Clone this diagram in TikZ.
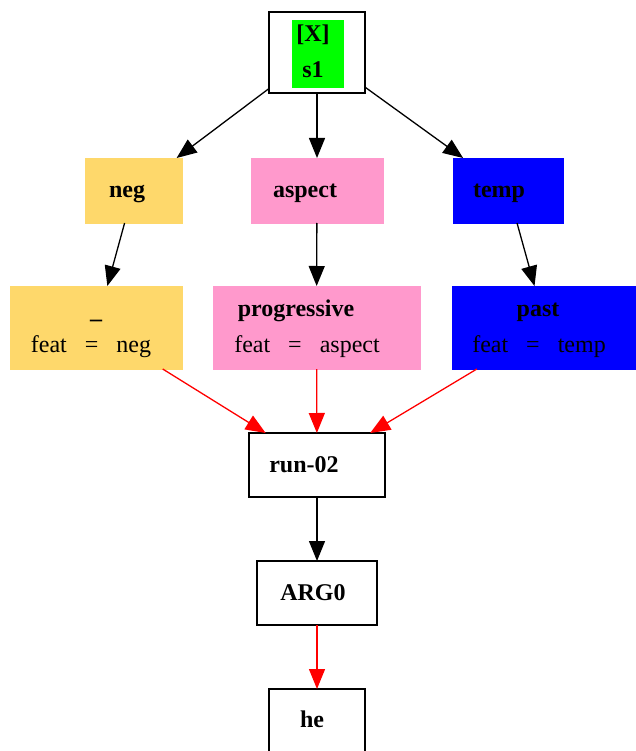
\documentclass[tikz,border=0pt]{standalone}
\usepackage{fontspec}
\setmainfont{Liberation Serif}
\usetikzlibrary{arrows.meta}
\definecolor{cyel}{HTML}{FED86B}
\definecolor{cpink}{HTML}{FF99CC}
\definecolor{cblue}{HTML}{0000FF}
\definecolor{cgreen}{HTML}{00FF00}
\tikzset{
  box/.style={draw=black, line width=1.4pt, fill=white, inner sep=0pt, outer sep=0pt, anchor=center},
  cbox/.style={draw=#1, fill=#1, line width=0.6pt, inner sep=0pt, outer sep=0pt, anchor=center},
  txt/.style={anchor=base, inner sep=0pt, font=\fontsize{24}{28}\selectfont},
  btxt/.style={txt, font=\fontsize{24}{28}\selectfont\bfseries},
  conn/.style={line width=1.3pt, -{Triangle[length=20pt,width=16pt]}},
  blk/.style={conn, draw=black},
  redc/.style={conn, draw=red, -{Triangle[length=20pt,width=16pt,fill=red]}},
}
\newcommand{\eqsp}{\hspace{18pt}}
\begin{document}
\begin{tikzpicture}[x=1pt,y=-1pt]
\useasboundingbox (0,0) rectangle (636,751);
% boxes
\node[box, minimum width=96pt, minimum height=81pt] (s1) at (317,52.5) {};
\node[cbox=cgreen, minimum width=51pt, minimum height=67pt] (s1g) at (317.5,53.5) {};
\node[btxt] (s1a) at (313,42) {[X]};
\node[btxt] (s1b) at (313,78) {s1};

\node[cbox=cyel, minimum width=97pt, minimum height=65pt] (neg) at (133.5,190.5) {};
\node[btxt] (negt) at (127,197) {neg};
\node[cbox=cpink, minimum width=132pt, minimum height=65pt] (asp) at (317,190.5) {};
\node[btxt] (aspt) at (305,197) {aspect};
\node[cbox=cblue, minimum width=110pt, minimum height=65pt] (temp) at (508,190.5) {};
\node[btxt] (tempt) at (499,197) {temp};

\node[cbox=cyel, minimum width=172pt, minimum height=83pt] (neg2) at (96,327.5) {};
\node[btxt] (neg2a) at (96,318) {\_};
\node[txt] (neg2b) at (91,352) {feat\eqsp=\eqsp neg};
\node[cbox=cpink, minimum width=207pt, minimum height=83pt] (prog) at (316.5,327.5) {};
\node[btxt] (proga) at (296,316) {progressive};
\node[txt] (progb) at (307,352) {feat\eqsp=\eqsp aspect};
\node[cbox=cblue, minimum width=188pt, minimum height=83pt] (past) at (546,327.5) {};
\node[btxt] (pasta) at (538,316) {past};
\node[txt] (pastb) at (539,352) {feat\eqsp=\eqsp temp};

\node[box, minimum width=136pt, minimum height=64pt] (run) at (317,465) {};
\node[btxt] (runt) at (304,472) {run-02};
\node[box, minimum width=120pt, minimum height=64pt] (arg) at (317,593) {};
\node[btxt] (argt) at (313,600) {ARG0};
\node[box, minimum width=96pt, minimum height=64pt] (he) at (317,721) {};
\node[btxt] (het) at (312,727) {he};

% connectors
\draw[blk] (s1) -- (neg);
\draw[blk] (s1) -- (asp);
\draw[blk] (s1) -- (temp);
\draw[blk] (neg) -- (neg2);
\draw[blk] (asp) -- (prog);
\draw[blk] (temp) -- (past);
\draw[redc] (neg2) -- (run);
\draw[redc] (prog) -- (run);
\draw[redc] (past) -- (run);
\draw[blk] (run) -- (arg);
\draw[redc] (arg) -- (he);
\end{tikzpicture}
\end{document}
